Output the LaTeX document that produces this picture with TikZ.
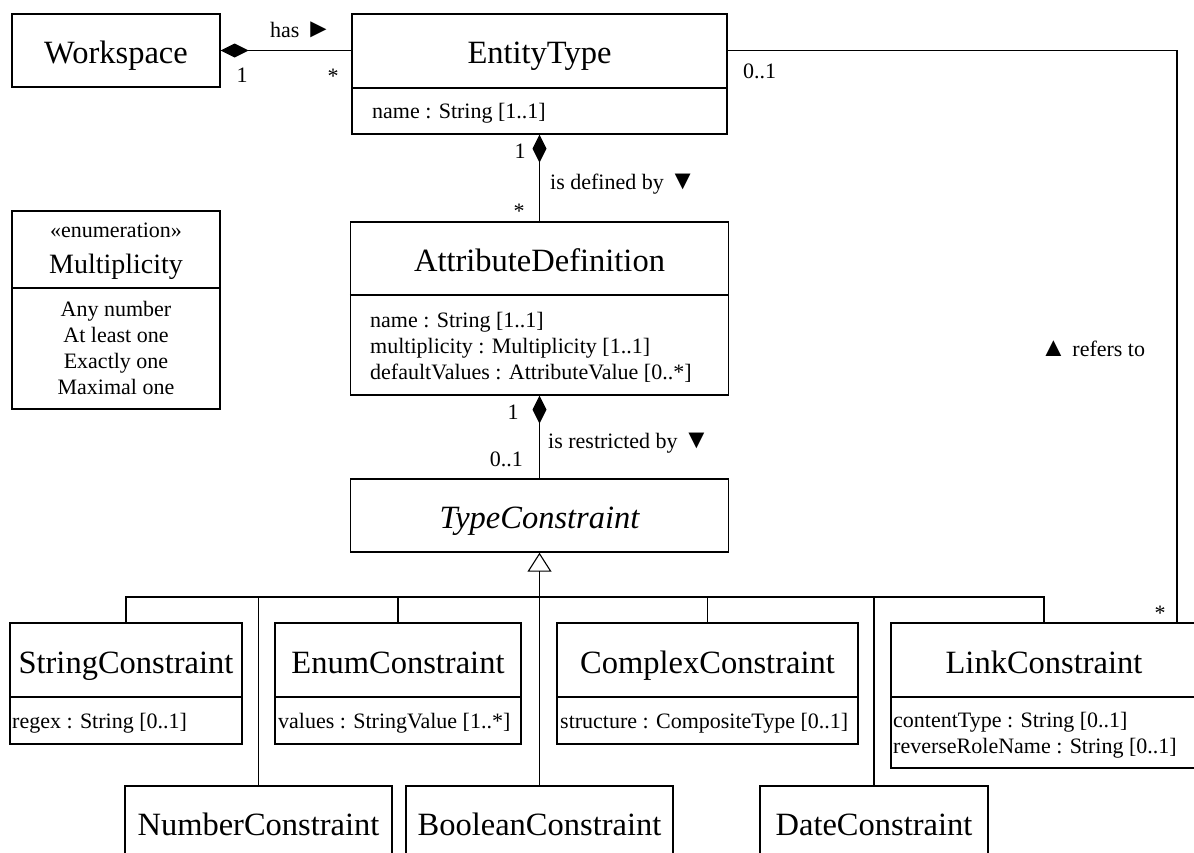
\documentclass[tikz,border=0pt]{standalone}
\usepackage{fontspec}
\setmainfont{Liberation Serif}
\usetikzlibrary{arrows.meta}
\newcommand\dirmark[1]{{\fontsize{27}{26}\selectfont #1}}
\begin{document}
\begin{tikzpicture}[x=1pt,y=-1pt,
  box/.style={draw,line width=1.4pt,inner sep=0pt},
  sep/.style={line width=1.4pt},
  wire/.style={line width=1.1pt},
  cname/.style={font=\fontsize{32.5}{38}\selectfont,anchor=base,inner sep=0pt},
  attr/.style={font=\fontsize{22}{26}\selectfont,anchor=base west,inner sep=0pt},
  lit/.style={font=\fontsize{22}{26}\selectfont,anchor=base,inner sep=0pt},
  lbl/.style={font=\fontsize{22}{26}\selectfont,inner sep=0pt},
  comp/.style={{Diamond[length=28pt,width=14pt]}-},
  gen/.style={-{Triangle[open,length=19pt,width=24pt,line width=1.1pt]}}]
\useasboundingbox (0,0) rectangle (1194,852);
\clip (0,0) rectangle (1194,852);

% class boxes
\node[box,minimum width=208pt,minimum height=73pt] (ws) at (116,50.5) {};
\node[box,minimum width=375pt,minimum height=120pt] (et) at (539.5,74) {};
\node[box,minimum width=208pt,minimum height=198pt] (mult) at (116,310) {};
\node[box,minimum width=378pt,minimum height=173pt] (ad) at (539.5,308.5) {};
\node[box,minimum width=378pt,minimum height=73pt] (tc) at (539.5,515.5) {};
\node[box,minimum width=232pt,minimum height=121pt] (sc) at (126,683.5) {};
\node[box,minimum width=246pt,minimum height=121pt] (ec) at (398,683.5) {};
\node[box,minimum width=301pt,minimum height=121pt] (cc) at (707.5,683.5) {};
\node[box,minimum width=306pt,minimum height=145pt] (lc) at (1044,695.5) {};
\node[box,minimum width=267pt,minimum height=73pt] (nc) at (258.5,822.5) {};
\node[box,minimum width=267pt,minimum height=73pt] (bc) at (539.5,822.5) {};
\node[box,minimum width=228pt,minimum height=73pt] (dc) at (874,822.5) {};

% compartment separators
\draw[sep] (et.west |- 0,88) -- (et.east |- 0,88);
\draw[sep] (mult.west |- 0,288) -- (mult.east |- 0,288);
\draw[sep] (ad.west |- 0,295) -- (ad.east |- 0,295);
\draw[sep] (sc.west |- 0,697) -- (sc.east |- 0,697);
\draw[sep] (ec.west |- 0,697) -- (ec.east |- 0,697);
\draw[sep] (cc.west |- 0,697) -- (cc.east |- 0,697);
\draw[sep] (lc.west |- 0,697) -- (lc.east |- 0,697);

% class names
\node[cname] (wsT) at (116,63) {Workspace};
\node[cname] (etT) at (539.5,63) {EntityType};
\node[cname] (adT) at (539.5,271.5) {AttributeDefinition};
\node[cname] (tcT) at (539.5,528) {\itshape TypeConstraint};
\node[cname] (scT) at (126,673) {StringConstraint};
\node[cname] (ecT) at (398,673) {EnumConstraint};
\node[cname] (ccT) at (707.5,673) {ComplexConstraint};
\node[cname] (lcT) at (1044,673) {LinkConstraint};
\node[cname] (ncT) at (258.5,835) {NumberConstraint};
\node[cname] (bcT) at (539.5,835) {BooleanConstraint};
\node[cname] (dcT) at (874,835) {DateConstraint};

% enumeration
\node[lit] (stereo) at (116,237) {«enumeration»};
\node[cname,font=\fontsize{28}{33}\selectfont] (multT) at (116,273) {Multiplicity};
\node[lit] (lit1) at (116,316) {Any number};
\node[lit] (lit2) at (116,342) {At least one};
\node[lit] (lit3) at (116,368) {Exactly one};
\node[lit] (lit4) at (116,394) {Maximal one};

% attributes
\node[attr] (etA) at (372,118) {name : String [1..1]};
\node[attr] (adA1) at (370,327) {name : String [1..1]};
\node[attr] (adA2) at (370,353) {multiplicity : Multiplicity [1..1]};
\node[attr] (adA3) at (370,379) {defaultValues : AttributeValue [0..*]};
\node[attr] (scA) at (12,728) {regex : String [0..1]};
\node[attr] (ecA) at (278,728) {values : StringValue [1..*]};
\node[attr] (ccA) at (560,728) {structure : CompositeType [0..1]};
\node[attr] (lcA1) at (893,727) {contentType : String [0..1]};
\node[attr] (lcA2) at (893,753) {reverseRoleName : String [0..1]};

% associations
\draw[wire,comp] (ws.east) -- (ws.east -| et.west);
\draw[wire,comp] (et.south) -- (ad.north);
\draw[wire,comp] (ad.south) -- (tc.north);
\coordinate (rl) at (1177,0);
\draw[wire] (ws.east -| et.east) -| (rl |- lc.north);

% generalization tree
\coordinate (bus) at (539.5,597);
\draw[wire,gen] (bc.north) -- (tc.south);
\draw[wire] (sc.north) |- (bus) -| (lc.north);
\draw[wire] (nc.north) -- (nc.north |- bus);
\draw[wire] (ec.north) -- (ec.north |- bus);
\draw[wire] (cc.north) -- (cc.north |- bus);
\draw[wire] (dc.north) -- (dc.north |- bus);

% association labels and multiplicities
\node[lbl,anchor=base west] (hasL) at (270,37) {has \dirmark{►}};
\node[lbl,anchor=base] (m1) at (242,82) {1};
\node[lbl,anchor=base] (m2) at (333,83) {*};
\node[lbl,anchor=base west] (m3) at (743,78) {0..1};
\node[lbl,anchor=base] (m4) at (520,158) {1};
\node[lbl,anchor=base] (m5) at (519,218) {*};
\node[lbl,anchor=base west] (defL) at (550,189) {is defined by \dirmark{▼}};
\node[lbl,anchor=base] (m6) at (513,419) {1};
\node[lbl,anchor=base west] (resL) at (548,448) {is restricted by \dirmark{▼}};
\node[lbl,anchor=base east] (m7) at (523,466) {0..1};
\node[lbl,anchor=base west] (refL) at (1040,356) {\dirmark{▲} refers to};
\node[lbl,anchor=base] (m8) at (1160,620) {*};
\end{tikzpicture}
\end{document}
